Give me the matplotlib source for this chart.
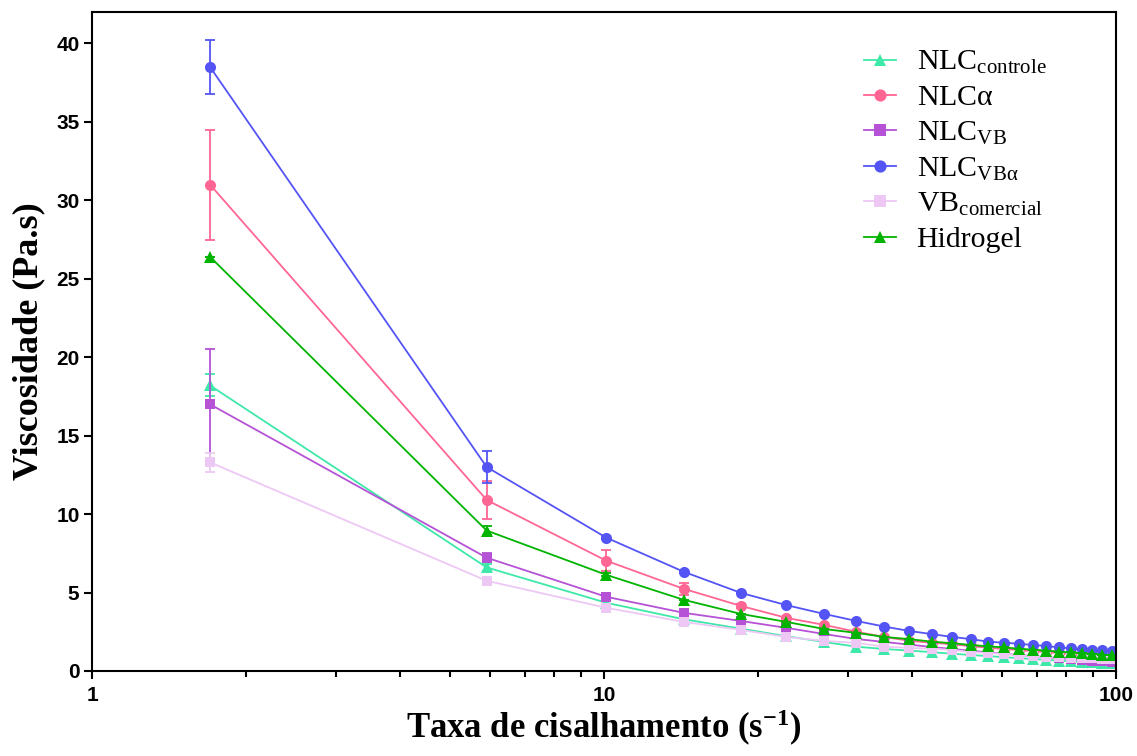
import numpy as np
import matplotlib
matplotlib.use("Agg")
import matplotlib.pyplot as plt
from matplotlib.ticker import LogLocator, NullFormatter, FixedLocator

plt.rcParams['mathtext.fontset'] = 'custom'
plt.rcParams['mathtext.rm'] = 'Liberation Serif'
plt.rcParams['mathtext.it'] = 'Liberation Serif:italic'
plt.rcParams['mathtext.bf'] = 'Liberation Serif:bold'

shear = [1.7, 5.9, 10.1, 14.3, 18.5, 22.7, 26.9, 31.1, 35.3, 39.5, 43.7, 47.9,
         52.1, 56.3, 60.5, 64.7, 68.9, 73.1, 77.3, 81.5, 85.7, 89.9, 94.1, 98.3]

nlc_controle = [18.2, 6.6, 4.35, 3.3, 2.7, 2.22, 1.85, 1.55, 1.40, 1.30, 1.20, 1.10,
                1.02, 0.95, 0.88, 0.82, 0.76, 0.71, 0.66, 0.62, 0.58, 0.55, 0.52, 0.49]
nlc_controle_err = [0.7, 0.2, 0.1] + [0] * 21

nlc_alpha = [31.0, 10.9, 7.03, 5.24, 4.15, 3.39, 2.94, 2.5, 2.17, 1.92, 1.8, 1.7,
             1.58, 1.48, 1.40, 1.33, 1.26, 1.2, 1.14, 1.09, 1.04, 1.0, 0.96, 0.92]
nlc_alpha_err = [3.5, 1.2, 0.65, 0.4, 0.15] + [0] * 19

nlc_vb = [17.0, 7.22, 4.73, 3.71, 3.19, 2.75, 2.36, 2.04, 1.85, 1.68, 1.53, 1.40,
          1.29, 1.19, 1.10, 1.02, 0.95, 0.88, 0.82, 0.76, 0.71, 0.66, 0.61, 0.57]
nlc_vb_err = [3.5, 0.3, 0.1] + [0] * 21

nlc_vb_alpha = [38.5, 13.0, 8.5, 6.33, 4.98, 4.2, 3.64, 3.19, 2.83, 2.55, 2.35, 2.17,
                2.03, 1.87, 1.80, 1.74, 1.65, 1.60, 1.50, 1.45, 1.40, 1.35, 1.33, 1.28]
nlc_vb_alpha_err = [1.7, 1.0, 0.1] + [0] * 21

vb_comercial = [13.3, 5.75, 4.03, 3.13, 2.62, 2.17, 1.92, 1.79, 1.55, 1.47, 1.42, 1.34,
                1.21, 1.15, 1.09, 1.02, 0.96, 0.9, 0.88, 0.85, 0.83, 0.8, 0.78, 0.75]
vb_comercial_err = [0.6, 0.2, 0.1] + [0] * 21

hidrogel = [26.4, 8.95, 6.13, 4.54, 3.64, 3.13, 2.68, 2.43, 2.17, 2.03, 1.87, 1.77,
            1.66, 1.57, 1.50, 1.42, 1.36, 1.30, 1.24, 1.18, 1.13, 1.09, 1.05, 1.0]
hidrogel_err = [0.0, 0.3, 0.1] + [0] * 21

labels = [r'NLC$_{\mathrm{controle}}$', r'NLC$\mathrm{α}$', r'NLC$_{\mathrm{VB}}$',
          r'NLC$_{\mathrm{VBα}}$', r'VB$_{\mathrm{comercial}}$', 'Hidrogel']
values = [nlc_controle, nlc_alpha, nlc_vb, nlc_vb_alpha, vb_comercial, hidrogel]
errors = [nlc_controle_err, nlc_alpha_err, nlc_vb_err, nlc_vb_alpha_err,
          vb_comercial_err, hidrogel_err]
colors = ['#3EE8A8', '#FF6694', '#B552D6', '#5454F5', '#EDC8F5', '#00B400']
markers = ['^', 'o', 's', 'o', 's', '^']
msizes = [8.5, 8, 7.5, 8, 7.5, 8.5]

fig = plt.figure(figsize=(11.37, 7.56), dpi=100)
ax = fig.add_axes([92/1137, 1 - 671/756, (1116-92)/1137, (671-12)/756])

handles = []
for label, vals, err, color, marker, ms in zip(labels, values, errors, colors, markers, msizes):
    ax.errorbar(shear, vals, yerr=err, fmt='none', ecolor=color, elinewidth=1.3,
                capsize=3.5, capthick=1.3)
    h, = ax.plot(shear, vals, color=color, marker=marker, markersize=ms,
                 linewidth=1.3, markeredgewidth=0, label=label)
    handles.append(h)

ax.set_xscale('log')
ax.set_xlim(1, 100)
ax.set_ylim(0, 42)
ax.set_yticks(np.arange(0, 41, 5))
ax.xaxis.set_major_locator(FixedLocator([1, 10, 100]))
ax.set_xticklabels(['1', '10', '100'])
ax.xaxis.set_minor_locator(LogLocator(base=10, subs=np.arange(2, 10)))
ax.xaxis.set_minor_formatter(NullFormatter())

for sp in ax.spines.values():
    sp.set_linewidth(1.5)
ax.tick_params(axis='both', which='major', direction='out', length=6, width=1.5,
               labelsize=15)
ax.tick_params(axis='y', which='major', pad=3)
ax.tick_params(axis='x', which='major', pad=5)
ax.tick_params(axis='x', which='minor', direction='out', length=4, width=1.5)
for lab in ax.get_xticklabels() + ax.get_yticklabels():
    lab.set_fontfamily('Liberation Sans')
    lab.set_fontweight('bold')

ax.set_xlabel(r'Taxa de cisalhamento (s$^{\mathbf{-1}}$)', fontfamily='Liberation Serif',
              fontweight='bold', fontsize=25, labelpad=2)
ax.set_ylabel('Viscosidade (Pa.s)', fontfamily='Liberation Serif', fontweight='bold',
              fontsize=26, labelpad=8)

leg = ax.legend(handles=handles, loc='upper left',
                bbox_to_anchor=((864 - 92) / 1024, (671 - 49) / 659), frameon=False,
                prop={'family': 'Liberation Serif', 'size': 21.5}, borderpad=0,
                borderaxespad=0, handlelength=1.08, handletextpad=0.68,
                labelspacing=0.28, markerscale=1.1)

fig.savefig('out.png', dpi=100)
